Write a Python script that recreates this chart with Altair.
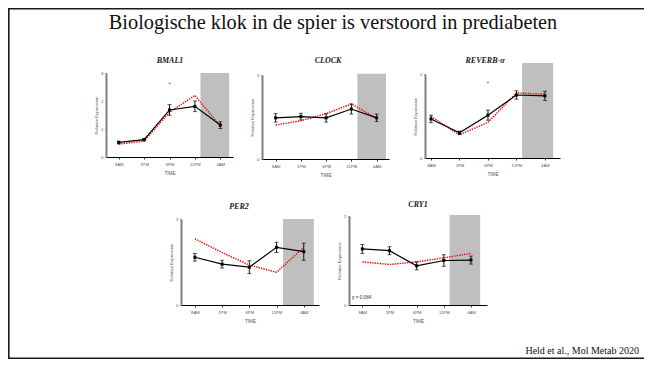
import altair as alt
import pandas as pd

# ---------------- data ----------------
times = ["8AM", "1PM", "6PM", "11PM", "4AM"]
genes = ["BMAL1", "CLOCK", "REVERB-α", "PER2", "CRY1"]

black_means = {
    "BMAL1": [0.52, 0.62, 1.68, 1.81, 1.14],
    "CLOCK": [0.98, 1.01, 0.98, 1.19, 0.98],
    "REVERB-α": [0.93, 0.60, 1.02, 1.50, 1.48],
    "PER2": [1.11, 0.95, 0.88, 1.34, 1.24],
    "CRY1": [1.26, 1.22, 0.88, 1.00, 1.01],
}
black_err = {
    "BMAL1": [0.05, 0.04, 0.19, 0.19, 0.12],
    "CLOCK": [0.10, 0.08, 0.10, 0.12, 0.09],
    "REVERB-α": [0.09, 0.04, 0.12, 0.10, 0.11],
    "PER2": [0.09, 0.09, 0.15, 0.12, 0.20],
    "CRY1": [0.10, 0.09, 0.09, 0.13, 0.09],
}
red_means = {
    "BMAL1": [0.46, 0.57, 1.60, 2.20, 1.10],
    "CLOCK": [0.81, 0.91, 1.08, 1.31, 0.97],
    "REVERB-α": [0.99, 0.55, 0.85, 1.55, 1.52],
    "PER2": [1.54, 1.22, 0.93, 0.76, 1.34],
    "CRY1": [0.97, 0.91, 0.97, 1.06, 1.16],
}
y_max = [3, 2, 2, 2, 2]
shade_top = [3.0, 2.03, 2.26, 2.0, 2.02]
shade_from = [3.22, 3.24, 3.20, 3.24, 3.21]
shade_to = [4.35, 4.37, 4.29, 4.37, 4.34]
stars = {"BMAL1": (2, 2.64), "REVERB-α": (2, 1.79)}
notes = {"CRY1": ("p = 0.084", -0.38, 0.15)}
slide_title = ["Biologische klok in de spier is verstoord in prediabeten"]
citation = ["Held et al., Mol Metab 2020"]

# ---------------- layout ----------------
W, H = 636, 351
layout = {
    "BMAL1":    dict(xr=[98, 225],  yr=[149, 65],  xd=[-0.5, 4.5],   tx=162, ty=55.3),
    "CLOCK":    dict(xr=[254, 381], yr=[151, 67],  xd=[-0.54, 4.49], tx=320, ty=54.7),
    "REVERB-α": dict(xr=[417, 552], yr=[150, 66],  xd=[-0.21, 4.53], tx=477, ty=54.7),
    "PER2":     dict(xr=[173, 311], yr=[297, 211], xd=[-0.51, 4.56], tx=231, ty=200.7),
    "CRY1":     dict(xr=[341, 479], yr=[297, 208], xd=[-0.49, 4.59], tx=410, ty=199.4),
}
label_expr = "[" + ",".join("'%s'" % t for t in times) + "][datum.value]"
LABEL_GRAY = "#555555"
SANS = "Liberation Sans"
SERIF = "Liberation Serif"


def panel(i, g):
    L = layout[g]
    m = black_means[g]
    e = black_err[g]
    df = pd.DataFrame({
        "idx": list(range(len(times))),
        "time": times,
        "ctrl": m,
        "lo": [a - b for a, b in zip(m, e)],
        "hi": [a + b for a, b in zip(m, e)],
        "pre": red_means[g],
    })
    xaxis = alt.Axis(
        orient="bottom", offset=L["yr"][0] - H, values=list(range(len(times))),
        labelExpr=label_expr, title="TIME", grid=False, labelFlush=False,
        labelOverlap=False, labelFont=SANS, labelFontSize=4.2, labelColor=LABEL_GRAY,
        labelPadding=3.5, tickSize=2, tickColor="#000", tickWidth=0.8,
        domainColor="#000", domainWidth=1.2, titleFont=SANS, titleFontSize=4.6,
        titleFontWeight="normal", titleColor=LABEL_GRAY, titlePadding=3.5,
    )
    yaxis = alt.Axis(
        orient="left", offset=-L["xr"][0], values=list(range(y_max[i] + 1)),
        format="d", title="Relative Expression", grid=False, labelFlush=False,
        labelOverlap=False, labelFont=SANS, labelFontSize=4.4, labelColor=LABEL_GRAY,
        labelPadding=1.5, tickSize=1.5, tickColor="#7f7f7f", tickWidth=0.8,
        domainColor="#7f7f7f", domainWidth=2, titleFont=SANS, titleFontSize=4.3,
        titleFontWeight="normal", titleColor=LABEL_GRAY, titlePadding=2.5,
    )
    xs = alt.Scale(domain=L["xd"], range=L["xr"], nice=False, zero=False)
    ys = alt.Scale(domain=[0, y_max[i]], range=L["yr"], nice=False, zero=False)

    def X(f):
        return alt.X(f, type="quantitative", scale=xs, axis=xaxis)

    def Y(f):
        return alt.Y(f, type="quantitative", scale=ys, axis=yaxis)

    shade_df = pd.DataFrame({"x0": [shade_from[i]], "x1": [shade_to[i]],
                             "y0": [0.0], "y1": [shade_top[i]]})
    shade = alt.Chart(shade_df).mark_rect(color="#bfbfbf").encode(
        x=X("x0"), x2=alt.X2("x1"), y=Y("y0"), y2=alt.Y2("y1"))
    red = alt.Chart(df).mark_line(color="#ff0000", strokeWidth=1.4,
                                  strokeDash=[1.4, 1.1]).encode(x=X("idx"), y=Y("pre"))
    line = alt.Chart(df).mark_line(color="#000", strokeWidth=1.2).encode(
        x=X("idx"), y=Y("ctrl"))
    err = alt.Chart(df).mark_rule(color="#000", strokeWidth=0.9).encode(
        x=X("idx"), y=Y("lo"), y2=alt.Y2("hi"))
    cap_lo = alt.Chart(df).mark_tick(color="#000", orient="horizontal", size=4,
                                     thickness=0.9).encode(x=X("idx"), y=Y("lo"))
    cap_hi = alt.Chart(df).mark_tick(color="#000", orient="horizontal", size=4,
                                     thickness=0.9).encode(x=X("idx"), y=Y("hi"))
    pts = alt.Chart(df).mark_square(color="#000", size=9, opacity=1).encode(
        x=X("idx"), y=Y("ctrl"))
    title = alt.Chart(pd.DataFrame({"t": [g]})).mark_text(
        font=SERIF, fontStyle="italic", fontWeight="bold", fontSize=8,
        color="#1a1a1a", baseline="alphabetic", align="center").encode(
        x=alt.value(L["tx"]), y=alt.value(L["ty"]), text="t:N")
    layers = [shade, red, line, err, cap_lo, cap_hi, pts, title]
    if g in stars:
        sx, sy = stars[g]
        star_df = pd.DataFrame({"idx": [sx], "y": [sy], "t": ["*"]})
        layers.append(alt.Chart(star_df).mark_text(
            fontSize=7, color="#7f7f7f", baseline="middle", dy=1.5, font=SANS).encode(
            x=X("idx"), y=Y("y"), text="t:N"))
    if g in notes:
        nt, nx, ny = notes[g]
        note_df = pd.DataFrame({"idx": [nx], "y": [ny], "t": [nt]})
        layers.append(alt.Chart(note_df).mark_text(
            fontSize=4.6, color="#333", align="left", baseline="middle", font=SANS).encode(
            x=X("idx"), y=Y("y"), text="t:N"))
    return alt.layer(*layers)


one = pd.DataFrame({"a": [0]})
frame_left = alt.Chart(one).mark_rule(color="#1a1a1a", strokeWidth=1.6).encode(
    x=alt.value(0.8), y=alt.value(0), y2=alt.value(H))
frame_top = alt.Chart(one).mark_rule(color="#1a1a1a", strokeWidth=1.6).encode(
    x=alt.value(0), x2=alt.value(W), y=alt.value(0.8))
frame_bottom = alt.Chart(one).mark_rule(color="#1a1a1a", strokeWidth=1.6).encode(
    x=alt.value(0), x2=alt.value(W), y=alt.value(H - 0.8))

title_layer = alt.Chart(pd.DataFrame({"t": slide_title})).mark_text(
    font=SERIF, fontSize=20.3, color="#111", align="center", baseline="alphabetic").encode(
    x=alt.value(325), y=alt.value(20.5), text="t:N")
cite_layer = alt.Chart(pd.DataFrame({"t": citation})).mark_text(
    font=SERIF, fontSize=10, color="#111", align="right", baseline="alphabetic").encode(
    x=alt.value(631), y=alt.value(346), text="t:N")

panels = [panel(i, g) for i, g in enumerate(genes)]

chart = alt.layer(frame_left, frame_top, frame_bottom, title_layer, cite_layer, *panels).resolve_scale(
    x="independent", y="independent"
).properties(
    width=W, height=H, padding=0,
    autosize=alt.AutoSizeParams(type="none"),
).configure_view(stroke=None)

chart.save("out.html", embed_options={"renderer": "svg", "actions": False})
